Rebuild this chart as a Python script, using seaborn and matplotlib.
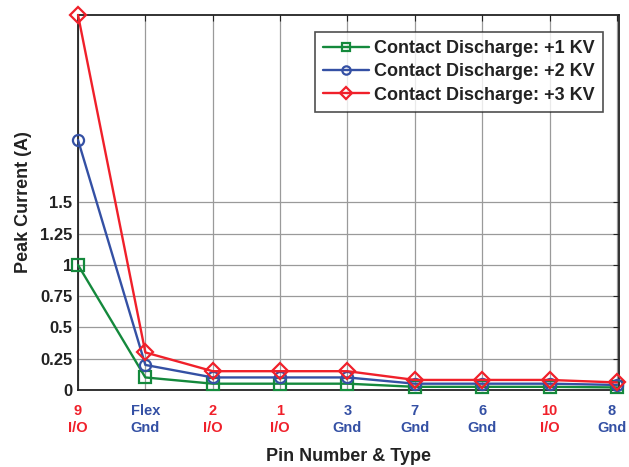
import matplotlib
matplotlib.use("Agg")
import matplotlib.pyplot as plt
import matplotlib.transforms as mtransforms
import seaborn as sns
import pandas as pd
import numpy as np

pins = ["9", "Flex", "2", "1", "3", "7", "6", "10", "8"]
pin_types = ["I/O", "Gnd", "I/O", "I/O", "Gnd", "Gnd", "Gnd", "I/O", "Gnd"]
kv1 = [1.0, 0.1, 0.05, 0.05, 0.05, 0.025, 0.025, 0.025, 0.02]
kv2 = [2.0, 0.2, 0.1, 0.1, 0.1, 0.05, 0.05, 0.05, 0.04]
kv3 = [3.0, 0.3, 0.15, 0.15, 0.15, 0.08, 0.08, 0.08, 0.06]
series_names = ["Contact Discharge: +1 KV", "Contact Discharge: +2 KV", "Contact Discharge: +3 KV"]
yticks = [0, 0.25, 0.5, 0.75, 1, 1.25, 1.5]
ytick_labels = ["0", "0.25", "0.5", "0.75", "1", "1.25", "1.5"]

GREEN = "#14893C"
BLUE = "#3450A4"
RED = "#F0202A"
DARK = "#222222"

rows = []
for name, vals in zip(series_names, [kv1, kv2, kv3]):
    for i, v in enumerate(vals):
        rows.append({"pos": i, "val": v, "series": name})
df = pd.DataFrame(rows)

sns.set_style("white")
plt.rcParams["font.family"] = ["Liberation Sans", "DejaVu Sans"]
plt.rcParams["font.weight"] = "bold"

fig = plt.figure(figsize=(6.29, 4.67), dpi=100)
ax = fig.add_axes([0.124, 0.165, 0.86, 0.803])

sns.lineplot(data=df, x="pos", y="val", hue="series", style="series",
             palette=[GREEN, BLUE, RED], markers=["s", "o", "D"], dashes=False,
             linewidth=1.7, markersize=8, ax=ax, legend=False)

for line, c in zip(ax.lines, [GREEN, BLUE, RED]):
    line.set_markerfacecolor("none")
    line.set_markeredgecolor(c)
    line.set_markeredgewidth(1.6)
    line.set_color(c)
    line.set_clip_on(False)
    line.set_zorder(5)

ax.set_xlim(0, 8.03)
ax.set_ylim(0, 3.0)

ax.grid(True, color="#9a9a9a", linewidth=0.9)
ax.set_axisbelow(True)
for s in ax.spines.values():
    s.set_visible(True)
    s.set_color(DARK)
    s.set_linewidth(1.3)

ax.tick_params(axis="both", direction="in", length=4, width=0.8,
               top=True, right=True, color=DARK)
ax.tick_params(axis="x", pad=10)
ax.tick_params(axis="y", pad=4)

ax.set_yticks(yticks)
ax.set_yticklabels(ytick_labels, fontsize=12, fontweight="bold", color=DARK)
ax.set_xticks(range(len(pins)))
labels = [f"{p}\n{t}" for p, t in zip(pins, pin_types)]
ax.set_xticklabels(labels, fontsize=10.5, fontweight="bold", linespacing=1.25)
xlabels = ax.get_xticklabels()
for lab, t in zip(xlabels, pin_types):
    lab.set_color(RED if t == "I/O" else BLUE)
# nudge the last label left so it stays inside the figure
last = xlabels[-1]
last.set_transform(last.get_transform() +
                   mtransforms.ScaledTranslation(-5 / 100, 0, fig.dpi_scale_trans))

ax.set_xlabel("Pin Number & Type", fontsize=13, fontweight="bold", color=DARK, labelpad=10)
ax.set_ylabel("Peak Current (A)", fontsize=13, fontweight="bold", color=DARK, labelpad=6)

leg = ax.legend(handles=ax.lines[:3], labels=series_names, loc="upper right",
                bbox_to_anchor=(0.970, 0.955), borderaxespad=0, fontsize=13,
                frameon=True, fancybox=False, handlelength=2.5, borderpad=0.45,
                labelspacing=0.35, handletextpad=0.3, markerscale=0.75)
leg.get_frame().set_edgecolor(DARK)
leg.get_frame().set_linewidth(1.2)
for t in leg.get_texts():
    t.set_fontweight("bold")
    t.set_color(DARK)

fig.savefig("out.png", dpi=100, facecolor="white")
